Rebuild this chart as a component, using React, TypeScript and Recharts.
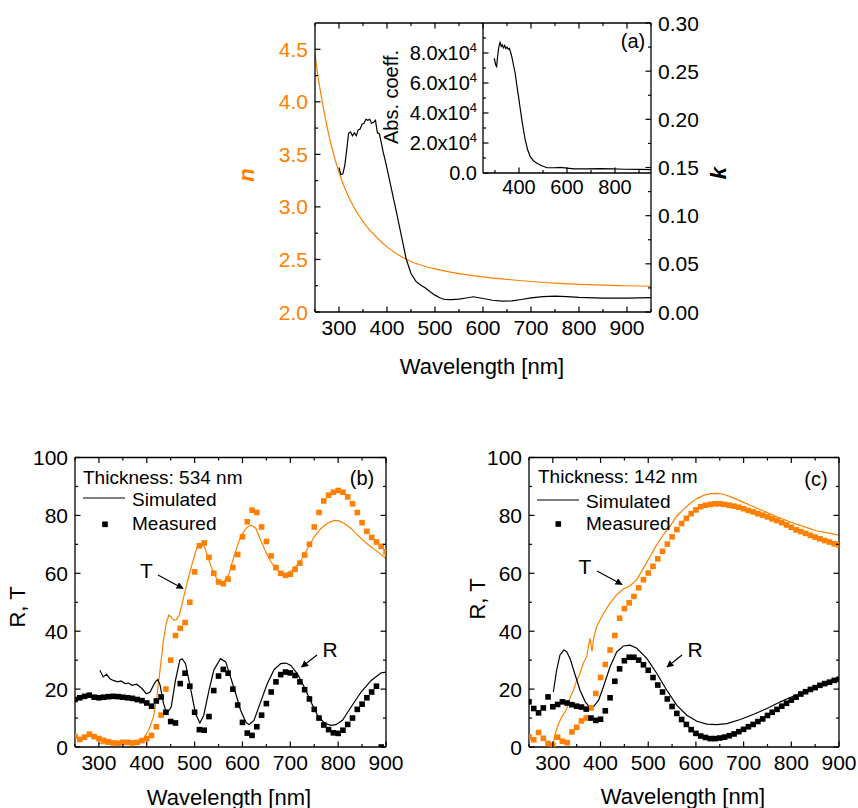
import React from "react";
import { ComposedChart, Line, Scatter, XAxis, YAxis } from "recharts";

const FONT = "'Liberation Sans', Arial, Helvetica, sans-serif";
const ORANGE = "#ff8000";

// ---- panel (a): optical constants ----
const nWavelengths = [250, 256, 262, 270, 280, 290, 300, 312, 325, 340, 355, 370, 385, 400, 425, 450, 475, 500, 550, 600, 650, 700, 750, 800, 850, 900, 950];
const nValues = [4.45, 4.25, 4.08, 3.88, 3.66, 3.48, 3.33, 3.18, 3.05, 2.93, 2.83, 2.75, 2.68, 2.62, 2.54, 2.48, 2.44, 2.41, 2.365, 2.335, 2.31, 2.29, 2.275, 2.263, 2.255, 2.25, 2.245];

const kWavelengths = [300, 304, 308, 312, 316, 320, 324, 328, 332, 336, 340, 344, 348, 352, 356, 360, 364, 368, 372, 376, 380, 384, 388, 392, 396, 400, 410, 420, 430, 440, 450, 460, 470, 480, 490, 500, 510, 520, 535, 550, 565, 580, 600, 620, 640, 660, 680, 700, 725, 750, 775, 800, 850, 900, 950];
const kValues = [0.15, 0.1425, 0.1435, 0.152, 0.168, 0.1855, 0.187, 0.183, 0.186, 0.183, 0.189, 0.19, 0.195, 0.196, 0.2, 0.199, 0.2, 0.196, 0.197, 0.199, 0.186, 0.185, 0.176, 0.166, 0.158, 0.149, 0.126, 0.103, 0.079, 0.055, 0.04, 0.032, 0.028, 0.025, 0.021, 0.0175, 0.0148, 0.013, 0.0128, 0.0133, 0.0145, 0.0158, 0.014, 0.0122, 0.0112, 0.0115, 0.013, 0.0147, 0.016, 0.0165, 0.016, 0.0152, 0.0144, 0.0144, 0.015];

const absWavelengths = [297, 303, 307, 311, 316, 321, 326, 330, 335, 340, 345, 350, 355, 360, 365, 370, 377, 384, 391, 398, 405, 412, 419, 426, 436, 447, 460, 475, 495, 517, 545, 573, 600, 629, 680, 740, 790, 838, 900, 950];
const absValues = [76500, 72000, 70900, 78000, 84000, 87100, 84500, 85500, 83500, 85000, 83000, 84000, 82500, 83000, 80500, 77500, 72000, 66500, 58500, 50900, 43000, 35300, 28500, 22000, 15500, 10900, 8200, 6500, 4800, 3500, 3500, 3700, 3200, 2700, 2800, 2900, 2700, 2500, 2400, 2300];

// ---- panels (b) and (c): R and T ----
const measuredWavelengths = [250, 260, 270, 280, 290, 300, 310, 320, 330, 340, 350, 360, 370, 380, 390, 400, 410, 420, 430, 440, 450, 460, 470, 480, 490, 500, 510, 520, 530, 540, 550, 560, 570, 580, 590, 600, 610, 620, 630, 640, 650, 660, 670, 680, 690, 700, 710, 720, 730, 740, 750, 760, 770, 780, 790, 800, 810, 820, 830, 840, 850, 860, 870, 880, 890, 900];

const measuredRb = [16.4, 17, 17.5, 17.9, 17.2, 17, 17.2, 17.4, 17.5, 17.4, 17.2, 17, 16.8, 16.4, 16, 15.2, 14.1, 15.9, 17.3, 12, 8.8, 8.3, 21.9, 25.5, 21, 12, 6, 5.8, 10.5, 19.5, 24.5, 26.8, 25.5, 20, 14.5, 8.5, 4.8, 4, 7, 11, 15, 19, 22.5, 25, 25.9, 25.6, 24.7, 22.5, 19.8, 16.6, 13, 10, 7.6, 6, 4.9, 4.7, 5.8, 7.8, 10, 13, 14.8, 17, 19, 21, 0, null];
const measuredTb = [3.7, 2.6, 3.4, 4.4, 3.6, 2.9, 2.3, 1.8, 1.4, 1.3, 1.6, 1.6, 1.4, 1.6, 2.2, 2.9, 4, 7, 11, 20, 30, 38.5, 41, 43, 50, 60.5, 69.5, 70.5, 65.5, 60, 57, 56.4, 58, 62, 66.5, 72.6, 77.8, 81.8, 81, 76, 71, 66, 62, 60, 59.3, 59.7, 61.4, 63.5, 66.3, 70, 76, 81, 85, 87, 88, 88.6, 88, 86.4, 84, 81, 77.5, 74.5, 72.4, 70.8, 69.3, 67.4];

const simRbWavelengths = [302, 309, 316, 323, 330, 339, 346, 355, 362, 369, 379, 390, 399, 407, 413, 418, 423, 428, 435, 442, 451, 460, 469, 474, 481, 491, 502, 511, 519, 530, 540, 554, 565, 575, 586, 596, 607, 614, 624, 638, 652, 666, 680, 691, 701, 715, 729, 743, 757, 771, 785, 795, 809, 827, 848, 869, 890, 900];
const simRbValues = [26.5, 24.2, 25.1, 23.6, 23, 22.5, 22.8, 21.9, 22.1, 21.3, 21.7, 20.2, 18.4, 19, 21, 22.5, 23.3, 21.3, 15, 11.5, 13.8, 23, 30, 30.5, 28.8, 20.7, 11.5, 8.3, 10.9, 19.6, 26.5, 30.5, 29.4, 24.2, 18.4, 12.7, 8.6, 7.7, 9.2, 15.6, 21.9, 26.7, 28.8, 29, 28.2, 25.3, 20.7, 15.6, 10.9, 8.3, 7.5, 7.7, 9.2, 13.8, 19, 23, 25.6, 25.9];

const simTbWavelengths = [300, 320, 340, 360, 380, 393, 404, 414, 421, 428, 435, 441, 446, 451, 456, 462, 468, 474, 484, 495, 505, 512, 521, 530, 540, 551, 561, 572, 582, 596, 610, 619, 628, 638, 652, 666, 680, 694, 708, 722, 736, 750, 764, 778, 792, 802, 813, 827, 841, 855, 869, 883, 900];
const simTbValues = [1.2, 1.0, 1.2, 1.0, 1.3, 2.9, 5.8, 10.4, 17.3, 27, 37, 43, 45.5, 45, 43.8, 44, 45.5, 49.5, 56.5, 63.4, 69, 70.3, 69, 64.5, 59.9, 57, 57, 59.9, 65.7, 72.6, 76, 76.6, 75.5, 71.4, 66.2, 62.2, 59.9, 59.9, 61.6, 64.5, 68.5, 72.6, 75.5, 77.4, 78.3, 78.1, 77.2, 75.5, 73.2, 70.9, 69.1, 67.4, 65.1];

const measuredRc = [15.6, 13.3, 11.8, 13.5, 17.3, 13.9, 14.7, 15.6, 15.2, 14.6, 14.1, 13.8, 13.1, 10, 9.2, 9.6, 12.5, 17, 22.7, 27, 29.8, 31, 31, 30, 28.4, 26.5, 24, 21.4, 19, 16.6, 14, 11.6, 9.5, 7.8, 6, 4.7, 3.8, 3.3, 2.9, 2.9, 3.1, 3.4, 3.9, 4.5, 5.3, 6.1, 7, 7.8, 8.8, 9.7, 10.9, 12, 13, 14.1, 15.1, 16.2, 17.2, 18.3, 19.1, 19.9, 20.5, 21.3, 21.9, 22.4, 23, 23.4];
const measuredTc = [3.5, 2.5, 5, 3, 1.2, 0.6, 3.4, 2, 1.5, 5.2, 6.8, 9, 10, 13.5, 18.5, 24, 28.5, 33.5, 38.5, 44.5, 47.8, 49.8, 52, 55, 57.8, 60.1, 62.4, 65, 67.6, 70.1, 72.6, 75.1, 77.2, 79, 80.6, 81.9, 83, 83.5, 83.8, 84, 84, 83.8, 83.5, 83.2, 82.8, 82.3, 81.7, 81.2, 80.6, 80.1, 79.5, 78.8, 78.2, 77.5, 76.7, 75.9, 75, 74.4, 73.8, 73.1, 72.5, 71.9, 71.3, 70.8, 70.2, 69.8];

const simRcWavelengths = [301, 308, 315, 323, 329, 336, 347, 357, 368, 378, 385, 396, 406, 420, 434, 448, 462, 476, 497, 518, 539, 560, 581, 602, 623, 644, 665, 693, 721, 749, 777, 805, 833, 861, 889, 900];
const simRcValues = [19, 26.6, 31.8, 33.5, 32.9, 30.6, 24.8, 19.6, 15.6, 13.6, 13.9, 16.2, 20.8, 27.7, 32.9, 34.9, 35.2, 34.1, 30.6, 25.4, 19.6, 14.4, 11, 8.9, 7.9, 7.7, 8.1, 9.5, 11.3, 13.3, 15.6, 17.6, 19.4, 21, 22.5, 23];

const simTcWavelengths = [300, 305, 312, 319, 329, 336, 343, 350, 357, 364, 371, 375, 378, 382, 386, 392, 406, 420, 434, 448, 462, 476, 490, 504, 518, 532, 546, 560, 574, 588, 602, 616, 630, 644, 658, 672, 693, 714, 742, 770, 798, 826, 854, 882, 900];
const simTcValues = [0.5, 4.6, 8, 10.5, 13, 17, 19.5, 23, 25.4, 29, 31.2, 35, 37.5, 33, 38, 41.6, 46.2, 49.7, 52.6, 54.6, 55.7, 57.8, 61.8, 65.9, 69.9, 73.4, 76.3, 79.8, 82.1, 84.2, 85.8, 86.9, 87.5, 87.6, 87.3, 86.5, 85, 83.5, 81.5, 79.5, 77.7, 76.1, 74.6, 73.8, 73.2];

// tick positions
const aXMajor = [300, 400, 500, 600, 700, 800, 900];
const aXMinor = [250, 350, 450, 550, 650, 750, 850, 950];
const nMajor = [2, 2.5, 3, 3.5, 4, 4.5];
const nMinor = [2.25, 2.75, 3.25, 3.75, 4.25];
const kMajor = [0, 0.05, 0.1, 0.15, 0.2, 0.25, 0.3];
const kMinor = [0.025, 0.075, 0.125, 0.175, 0.225, 0.275];
const insetXMajor = [400, 600, 800];
const insetXMinor = [300, 500, 700, 900];
const insetYMajor = [0, 20000, 40000, 60000, 80000];
const insetYMinor = [10000, 30000, 50000, 70000, 90000];
const rtXMajor = [300, 400, 500, 600, 700, 800, 900];
const rtXMinor = [250, 350, 450, 550, 650, 750, 850];
const rtYMajor = [0, 20, 40, 60, 80, 100];
const rtYMinor = [10, 30, 50, 70, 90];

const pts = (xs: number[], ys: (number | null)[]) =>
  xs.map((x, i) => ({ x, y: ys[i] })).filter((p) => p.y !== null && p.y !== undefined);

type Side = "left" | "right" | "top" | "bottom";

// custom tick: inward tick mark + optional outside label
const axisTick =
  (side: Side, majors: number[], fmt: ((v: number) => React.ReactNode) | null, color = "#000", fontSize = 21, gap = 7) =>
  (props: any) => {
    const { x, y, payload } = props;
    const v = payload.value;
    const major = majors.some((m) => Math.abs(m - v) < 1e-9);
    const len = major ? 5.5 : 3;
    let mark = null;
    let label = null;
    const common = { fill: color, fontSize, fontFamily: FONT };
    if (side === "bottom") {
      mark = <line x1={x} y1={y} x2={x} y2={y - len} stroke="#000" strokeWidth={1.2} />;
      if (major && fmt) label = <text x={x} y={y + gap} dy="0.71em" textAnchor="middle" {...common}>{fmt(v)}</text>;
    } else if (side === "top") {
      mark = <line x1={x} y1={y} x2={x} y2={y + len} stroke="#000" strokeWidth={1.2} />;
    } else if (side === "left") {
      mark = <line x1={x} y1={y} x2={x + len} y2={y} stroke="#000" strokeWidth={1.2} />;
      if (major && fmt) label = <text x={x - gap} y={y} dy="0.36em" textAnchor="end" {...common}>{fmt(v)}</text>;
    } else {
      mark = <line x1={x} y1={y} x2={x - len} y2={y} stroke="#000" strokeWidth={1.2} />;
      if (major && fmt) label = <text x={x + gap} y={y} dy="0.36em" textAnchor="start" {...common}>{fmt(v)}</text>;
    }
    return (
      <g>
        {mark}
        {label}
      </g>
    );
  };

const square = (color: string) => (p: any) =>
  <rect x={p.cx - 2.8} y={p.cy - 2.8} width={5.6} height={5.6} fill={color} />;

const axisLine = { stroke: "#000", strokeWidth: 1.3 };
const tickBase = { tickSize: 0, tickMargin: 0, tickLine: false, interval: 0 as const };

const sciLabel = (v: number) =>
  v === 0 ? "0.0" : (
    <>
      <tspan>{(v / 10000).toFixed(1)}x10</tspan>
      <tspan dy={-8} fontSize={13}>4</tspan>
    </>
  );

// axes are 1px wide/high, so margins are one less than the plot edge
const PanelA = () => (
  <ComposedChart width={858} height={400} margin={{ top: 22, left: 314, right: 206, bottom: 87 }}>
    <XAxis xAxisId="top" orientation="top" type="number" dataKey="x" domain={[250, 950]} allowDataOverflow
      ticks={[...aXMajor, ...aXMinor]} height={1} axisLine={axisLine} tick={axisTick("top", aXMajor, null)} {...tickBase} />
    <XAxis xAxisId="b" orientation="bottom" type="number" dataKey="x" domain={[250, 950]} allowDataOverflow
      ticks={[...aXMajor, ...aXMinor]} height={1} axisLine={axisLine} tick={axisTick("bottom", aXMajor, (v) => String(v), "#000", 21, 8)} {...tickBase} />
    <YAxis yAxisId="n" orientation="left" type="number" domain={[2, 4.75]} allowDataOverflow
      ticks={[...nMajor, ...nMinor]} width={1} axisLine={axisLine} tick={axisTick("left", nMajor, (v) => v.toFixed(1), ORANGE, 21, 7)} {...tickBase} />
    <YAxis yAxisId="k" orientation="right" type="number" domain={[0, 0.3]} allowDataOverflow
      ticks={[...kMajor, ...kMinor]} width={1} axisLine={axisLine} tick={axisTick("right", kMajor, (v) => v.toFixed(2), "#000", 21, 7)} {...tickBase} />
    <Line xAxisId="b" yAxisId="n" data={pts(nWavelengths, nValues)} dataKey="y" type="monotone" stroke={ORANGE}
      strokeWidth={1.2} dot={false} activeDot={false} isAnimationActive={false} />
    <Line xAxisId="b" yAxisId="k" data={pts(kWavelengths, kValues)} dataKey="y" type="linear" stroke="#000"
      strokeWidth={1.2} dot={false} activeDot={false} isAnimationActive={false} />
  </ComposedChart>
);

const Inset = () => (
  <ComposedChart width={858} height={200} margin={{ top: 23, left: 482, right: 207, bottom: 26 }}>
    <XAxis xAxisId="i" orientation="bottom" type="number" dataKey="x" domain={[250, 950]} allowDataOverflow
      ticks={[...insetXMajor, ...insetXMinor]} height={1} axisLine={axisLine} tick={axisTick("bottom", insetXMajor, (v) => String(v), "#000", 20, 7)} {...tickBase} />
    <YAxis yAxisId="i" orientation="left" type="number" domain={[0, 100000]} allowDataOverflow
      ticks={[...insetYMajor, ...insetYMinor]} width={1} axisLine={axisLine} tick={axisTick("left", insetYMajor, sciLabel, "#000", 20, 6)} {...tickBase} />
    <Line xAxisId="i" yAxisId="i" data={pts(absWavelengths, absValues)} dataKey="y" type="linear" stroke="#000"
      strokeWidth={1.2} dot={false} activeDot={false} isAnimationActive={false} />
  </ComposedChart>
);

type RTProps = {
  width: number;
  marginLeft: number;
  marginRight: number;
  simR: { x: number; y: number | null }[];
  simT: { x: number; y: number | null }[];
  measR: { x: number; y: number | null }[];
  measT: { x: number; y: number | null }[];
};

const RTPanel = ({ width, marginLeft, marginRight, simR, simT, measR, measT }: RTProps) => (
  <ComposedChart width={width} height={388} margin={{ top: 36.5, left: marginLeft, right: marginRight, bottom: 60 }}>
    <XAxis xAxisId="top" orientation="top" type="number" dataKey="x" domain={[250, 900]} allowDataOverflow
      ticks={[...rtXMajor, ...rtXMinor]} height={1} axisLine={axisLine} tick={axisTick("top", rtXMajor, null)} {...tickBase} />
    <XAxis xAxisId="b" orientation="bottom" type="number" dataKey="x" domain={[250, 900]} allowDataOverflow
      ticks={[...rtXMajor, ...rtXMinor]} height={1} axisLine={axisLine} tick={axisTick("bottom", rtXMajor, (v) => String(v), "#000", 21, 8)} {...tickBase} />
    <YAxis yAxisId="l" orientation="left" type="number" domain={[0, 100]} allowDataOverflow
      ticks={[...rtYMajor, ...rtYMinor]} width={1} axisLine={axisLine} tick={axisTick("left", rtYMajor, (v) => String(v), "#000", 21, 7)} {...tickBase} />
    <YAxis yAxisId="r" orientation="right" type="number" domain={[0, 100]} allowDataOverflow
      ticks={[...rtYMajor, ...rtYMinor]} width={1} axisLine={axisLine} tick={axisTick("right", rtYMajor, null)} {...tickBase} />
    <Scatter xAxisId="b" yAxisId="l" data={measT} dataKey="y" shape={square(ORANGE)} isAnimationActive={false} />
    <Scatter xAxisId="b" yAxisId="l" data={measR} dataKey="y" shape={square("#000")} isAnimationActive={false} />
    <Line xAxisId="b" yAxisId="l" data={simT} dataKey="y" type="linear" stroke={ORANGE}
      strokeWidth={1.2} dot={false} activeDot={false} isAnimationActive={false} />
    <Line xAxisId="b" yAxisId="l" data={simR} dataKey="y" type="linear" stroke="#000"
      strokeWidth={1.2} dot={false} activeDot={false} isAnimationActive={false} />
  </ComposedChart>
);

const Overlay = () => (
  <svg width={858} height={808} style={{ position: "absolute", left: 0, top: 0, pointerEvents: "none" }} fontFamily={FONT}>
    <defs>
      <marker id="ah" viewBox="0 0 10 10" refX="9" refY="5" markerWidth="6" markerHeight="6" orient="auto">
        <path d="M0,0 L10,5 L0,10 z" fill="#000" />
      </marker>
    </defs>
    {/* panel (a) */}
    <text x={482} y={366} textAnchor="middle" dominantBaseline="central" fontSize={22}>Wavelength [nm]</text>
    <text x={246} y={175} textAnchor="middle" dominantBaseline="central" fontSize={22} fontWeight="bold" fontStyle="italic"
      fill={ORANGE} transform="rotate(-90 246 175)">n</text>
    <text x={718} y={173} textAnchor="middle" dominantBaseline="central" fontSize={22} fontWeight="bold" fontStyle="italic"
      transform="rotate(-90 718 173)">k</text>
    <text x={391} y={97} textAnchor="middle" dominantBaseline="central" fontSize={20} transform="rotate(-90 391 97)">Abs. coeff.</text>
    <text x={633} y={41} textAnchor="middle" dominantBaseline="central" fontSize={20}>(a)</text>

    {/* panel (b) */}
    <text x={17.5} y={607} textAnchor="middle" dominantBaseline="central" fontSize={22} transform="rotate(-90 17.5 607)">R, T</text>
    <text x={229} y={797} textAnchor="middle" dominantBaseline="central" fontSize={22}>Wavelength [nm]</text>
    <text x={83} y={477} dominantBaseline="central" fontSize={19}>Thickness: 534 nm</text>
    <line x1={83} y1={498} x2={125} y2={498} stroke="#000" strokeWidth={1.2} />
    <text x={132} y={499} dominantBaseline="central" fontSize={19}>Simulated</text>
    <rect x={102.2} y={521.5} width={5.6} height={5.6} fill="#000" />
    <text x={132} y={523.5} dominantBaseline="central" fontSize={19}>Measured</text>
    <text x={362} y={478} textAnchor="middle" dominantBaseline="central" fontSize={20}>(b)</text>
    <text x={146.5} y={570} textAnchor="middle" dominantBaseline="central" fontSize={21}>T</text>
    <line x1={158} y1={575} x2={183} y2={588.5} stroke="#000" strokeWidth={1.2} markerEnd="url(#ah)" />
    <text x={330} y={649.5} textAnchor="middle" dominantBaseline="central" fontSize={21}>R</text>
    <line x1={317} y1={655} x2={301.5} y2={667} stroke="#000" strokeWidth={1.2} markerEnd="url(#ah)" />

    {/* panel (c) */}
    <text x={477} y={599} textAnchor="middle" dominantBaseline="central" fontSize={22} transform="rotate(-90 477 599)">R, T</text>
    <text x={683} y={796} textAnchor="middle" dominantBaseline="central" fontSize={22}>Wavelength [nm]</text>
    <text x={538} y={476} dominantBaseline="central" fontSize={19}>Thickness: 142 nm</text>
    <line x1={537} y1={500} x2={579} y2={500} stroke="#000" strokeWidth={1.2} />
    <text x={586} y={501} dominantBaseline="central" fontSize={19}>Simulated</text>
    <rect x={555.5} y={521.2} width={5.6} height={5.6} fill="#000" />
    <text x={586} y={523.5} dominantBaseline="central" fontSize={19}>Measured</text>
    <text x={816} y={479} textAnchor="middle" dominantBaseline="central" fontSize={20}>(c)</text>
    <text x={585} y={566} textAnchor="middle" dominantBaseline="central" fontSize={21}>T</text>
    <line x1={597} y1={571} x2={622} y2={584.5} stroke="#000" strokeWidth={1.2} markerEnd="url(#ah)" />
    <text x={695} y={649.5} textAnchor="middle" dominantBaseline="central" fontSize={21}>R</text>
    <line x1={682} y1={655} x2={667} y2={667} stroke="#000" strokeWidth={1.2} markerEnd="url(#ah)" />
  </svg>
);

export default function App() {
  return (
    <div style={{ position: "absolute", left: 0, top: 0, width: 858, height: 808, background: "#fff", fontFamily: FONT, overflow: "hidden" }}>
      <div style={{ position: "absolute", left: 0, top: 0 }}>
        <PanelA />
      </div>
      <div style={{ position: "absolute", left: 0, top: 0 }}>
        <Inset />
      </div>
      <div style={{ position: "absolute", left: 0, top: 420 }}>
        <RTPanel width={430} marginLeft={74} marginRight={43}
          simR={pts(simRbWavelengths, simRbValues)} simT={pts(simTbWavelengths, simTbValues)}
          measR={pts(measuredWavelengths, measuredRb)} measT={pts(measuredWavelengths, measuredTb)} />
      </div>
      <div style={{ position: "absolute", left: 430, top: 420 }}>
        <RTPanel width={428} marginLeft={98} marginRight={18}
          simR={pts(simRcWavelengths, simRcValues)} simT={pts(simTcWavelengths, simTcValues)}
          measR={pts(measuredWavelengths, measuredRc)} measT={pts(measuredWavelengths, measuredTc)} />
      </div>
      <Overlay />
    </div>
  );
}
